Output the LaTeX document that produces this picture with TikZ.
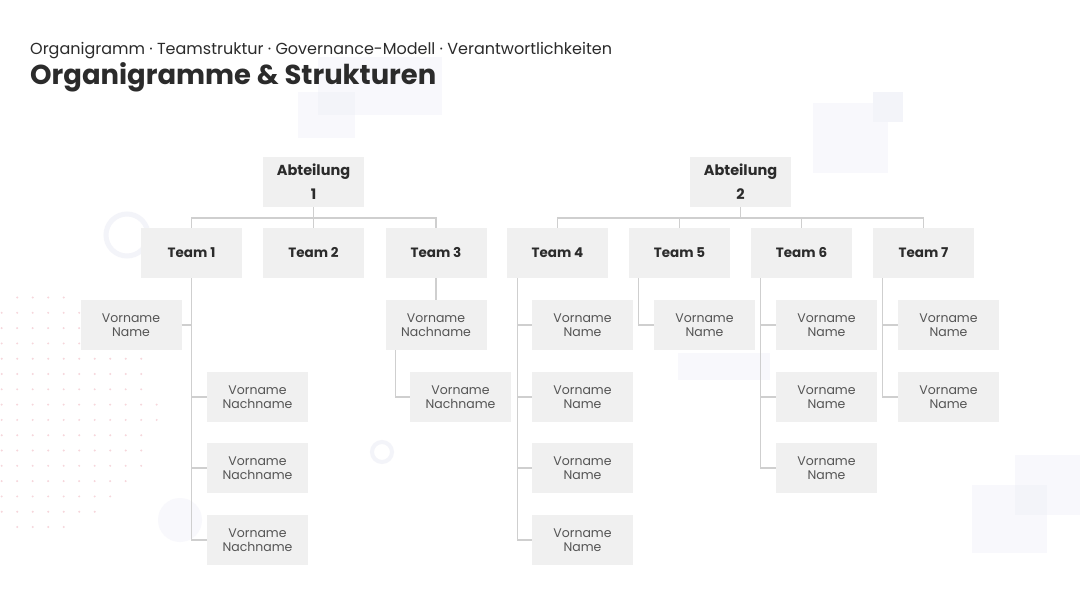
\documentclass[tikz,border=0pt]{standalone}
\usepackage{fontspec}
\setmainfont{Poppins}
\definecolor{boxgray}{HTML}{F0F0F0}
\definecolor{linegray}{HTML}{CFCFCF}
\definecolor{textdark}{HTML}{2B2B2B}
\definecolor{textgray}{HTML}{555555}
\definecolor{deco}{HTML}{F8F8FC}
\definecolor{decoB}{HTML}{F3F4F9}
\definecolor{dotpink}{HTML}{F6D6DB}
\tikzset{
  orgbox/.style={fill=boxgray, minimum width=101pt, minimum height=50pt, inner sep=0pt, align=center},
  dept/.style={orgbox, font=\bfseries\fontsize{14.5}{24}\selectfont, text=textdark},
  team/.style={orgbox, font=\bfseries\fontsize{13.5}{16}\selectfont, text=textdark},
  member/.style={orgbox, font=\fontsize{12.5}{13.5}\selectfont, text=textgray},
  conn/.style={draw=linegray, line width=1.3pt},
}
\begin{document}
\begin{tikzpicture}[x=1pt,y=-1pt]
\useasboundingbox (0,0) rectangle (1080,608);
\fill[white] (0,0) rectangle (1080,608);
% background decoration
\fill[deco] (318,57) rectangle (442,115);
\fill[deco] (298,92) rectangle (355,138);
\fill[decoB] (318,92) rectangle (355,115);
\fill[deco] (813,103) rectangle (888,173);
\fill[decoB] (873,92) rectangle (903,122);
\fill[deco] (678,353) rectangle (770,380);
\fill[deco] (1015,455) rectangle (1080,515);
\fill[deco] (972,485) rectangle (1047,553);
\fill[decoB] (1015,485) rectangle (1047,515);
\draw[decoB, line width=5pt] (127,235) circle (21);
\draw[decoB, line width=4pt] (382,452) circle (10);
\fill[deco] (180,520) circle (22);
\foreach \i in {0,...,10} {
  \foreach \j in {0,...,15} {
    \pgfmathsetmacro{\dx}{1.7+15.5*\i}
    \pgfmathsetmacro{\dy}{297.5+15.3*\j}
    \pgfmathparse{(((\dx-40)/10)^2+((\dy-412)/10)^2<11.8^2)?1:0}
    \ifnum\pgfmathresult=1 \fill[dotpink] (\dx,\dy) circle (1.1); \fi
  }
}
% titles
\node[anchor=base west, inner sep=0pt, font=\fontsize{16}{19}\selectfont, text=textdark] (sub) at (30,54) {Organigramm · Teamstruktur · Governance-Modell · Verantwortlichkeiten};
\node[anchor=base west, inner sep=0pt, font=\bfseries\fontsize{27.4}{31}\selectfont, text=textdark] (title) at (30,84) {Organigramme \& Strukturen};
% departments
\node[dept] (d1) at (313.5,182) {Abteilung\\1};
\node[dept] (d2) at (740.5,182) {Abteilung\\2};
% teams
\node[team] (t1) at (191.5,253) {Team 1};
\node[team] (t2) at (313.5,253) {Team 2};
\node[team] (t3) at (436,253) {Team 3};
\node[team] (t4) at (557.5,253) {Team 4};
\node[team] (t5) at (679.5,253) {Team 5};
\node[team] (t6) at (801.5,253) {Team 6};
\node[team] (t7) at (923.5,253) {Team 7};
% members
\node[member] (m1a) at (131,325) {Vorname\\Name};
\node[member] (m1b) at (257.5,397) {Vorname\\Nachname};
\node[member] (m1c) at (257.5,468) {Vorname\\Nachname};
\node[member] (m1d) at (257.5,540) {Vorname\\Nachname};
\node[member] (m3a) at (436,325) {Vorname\\Nachname};
\node[member] (m3b) at (460.5,397) {Vorname\\Nachname};
\node[member] (m4a) at (582.5,325) {Vorname\\Name};
\node[member] (m4b) at (582.5,397) {Vorname\\Name};
\node[member] (m4c) at (582.5,468) {Vorname\\Name};
\node[member] (m4d) at (582.5,540) {Vorname\\Name};
\node[member] (m5a) at (704.5,325) {Vorname\\Name};
\node[member] (m6a) at (826.5,325) {Vorname\\Name};
\node[member] (m6b) at (826.5,397) {Vorname\\Name};
\node[member] (m6c) at (826.5,468) {Vorname\\Name};
\node[member] (m7a) at (948.5,325) {Vorname\\Name};
\node[member] (m7b) at (948.5,397) {Vorname\\Name};
% department connectors
\coordinate (bar) at (0,218);
\draw[conn] (d1.south) -- (d1.south |- bar);
\draw[conn] (t1.north) |- (bar -| t3.north) -- (t3.north);
\draw[conn] (t2.north) -- (t2.north |- bar);
\draw[conn] (d2.south) -- (d2.south |- bar);
\draw[conn] (t4.north) |- (bar -| t7.north) -- (t7.north);
\draw[conn] (t5.north) -- (t5.north |- bar);
\draw[conn] (t6.north) -- (t6.north |- bar);
% team 1
\draw[conn] (t1.south) -- (t1.south |- m1d.west) -- (m1d.west);
\draw[conn] (m1a.east) -- (m1a.east -| t1.south);
\draw[conn] (m1b.west) -- (m1b.west -| t1.south);
\draw[conn] (m1c.west) -- (m1c.west -| t1.south);
% team 3
\draw[conn] (t3.south) -- (m3a.north);
\coordinate (v3) at ([xshift=10pt]m3a.south west);
\draw[conn] (v3) |- (m3b.west);
% team 4
\coordinate (v4) at ([xshift=10.5pt]t4.south west);
\draw[conn] (v4) |- (m4d.west);
\draw[conn] (m4a.west) -- (m4a.west -| v4);
\draw[conn] (m4b.west) -- (m4b.west -| v4);
\draw[conn] (m4c.west) -- (m4c.west -| v4);
% team 5
\coordinate (v5) at ([xshift=10pt]t5.south west);
\draw[conn] (v5) |- (m5a.west);
% team 6
\coordinate (v6) at ([xshift=10pt]t6.south west);
\draw[conn] (v6) |- (m6c.west);
\draw[conn] (m6a.west) -- (m6a.west -| v6);
\draw[conn] (m6b.west) -- (m6b.west -| v6);
% team 7
\coordinate (v7) at ([xshift=10pt]t7.south west);
\draw[conn] (v7) |- (m7b.west);
\draw[conn] (m7a.west) -- (m7a.west -| v7);
\end{tikzpicture}
\end{document}
